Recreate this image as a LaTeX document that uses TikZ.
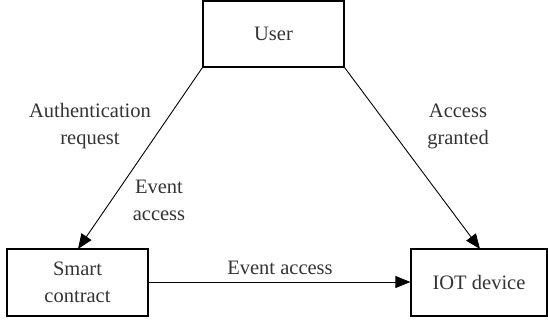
\documentclass[tikz,border=0pt]{standalone}
\usepackage{fontspec}
\setmainfont{Liberation Serif}
\usetikzlibrary{arrows.meta}
\begin{document}
\begin{tikzpicture}[x=1pt,y=-1pt,
  box/.style={draw,line width=1.2pt,inner sep=0pt},
  lbl/.style={align=center,font=\fontsize{20.5}{27}\selectfont,text=black!80},
  conn/.style={line width=0.9pt,-{Triangle[length=15pt,width=12pt]}}]
\useasboundingbox (0,0) rectangle (548,322);
\node[box,minimum width=141pt,minimum height=66pt,lbl] (user) at (273.5,34) {User};
\node[box,minimum width=141pt,minimum height=67pt,lbl] (smart) at (77.5,282.5) {Smart\\contract};
\node[box,minimum width=136pt,minimum height=67pt,lbl] (iot) at (479,282.5) {IOT device};
\coordinate (tipL) at (78,249);
\coordinate (tipR) at (480,249);
\draw[conn] (user.south west) -- (tipL);
\draw[conn] (user.south east) -- (tipR);
\draw[conn] (smart.east |- 0,282) -- (iot.west |- 0,282);
\node[lbl] (l1) at (90,126) {Authentication\\request};
\node[lbl] (l2) at (159,200) {Event\\access};
\node[lbl] (l3) at (458,126) {Access\\granted};
\node[lbl] (l4) at (280,268) {Event access};
\end{tikzpicture}
\end{document}
